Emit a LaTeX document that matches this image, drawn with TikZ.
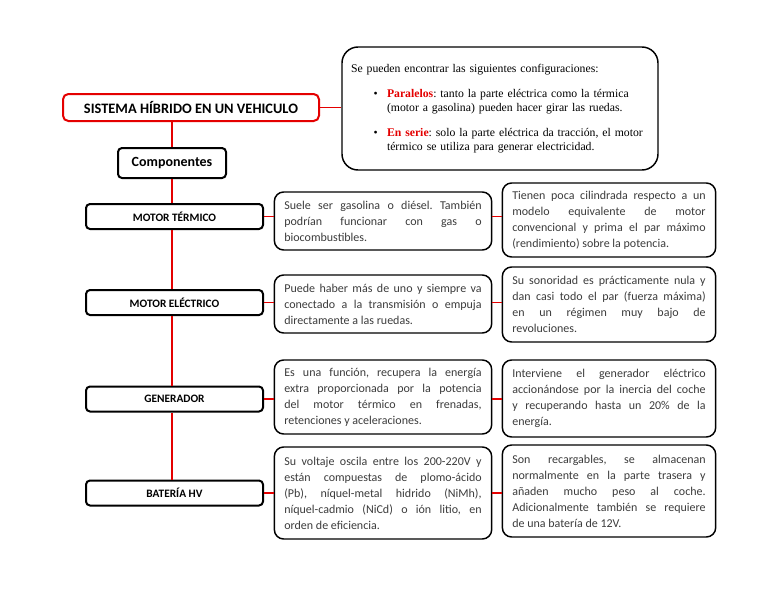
\documentclass[tikz,border=0pt]{standalone}
\usepackage{fontspec}
\setmainfont{Carlito}
\newfontfamily\cfgfont{Liberation Serif}
\usetikzlibrary{positioning}
\definecolor{linkred}{RGB}{228,0,0}
\definecolor{bodygray}{RGB}{60,60,60}
\tolerance=10000
\hbadness=10000
\hyphenpenalty=10000
\exhyphenpenalty=10000
\frenchspacing

\begin{document}
\begin{tikzpicture}[x=0.75pt, y=-0.75pt,
  link/.style={draw=linkred, line width=1.3pt},
  head/.style={draw=black, line width=1.5pt, rounded corners=3pt, fill=white,
    font=\bfseries\fontsize{8.5}{10}\selectfont, minimum width=132.75pt,
    minimum height=18.75pt, inner sep=0pt},
  info/.style={draw=black, line width=1.1pt, rounded corners=7pt, fill=white,
    align=justify, text=bodygray, font=\fontsize{9}{12}\selectfont,
    inner xsep=7.5pt, inner ysep=0pt},
  mid/.style={info, text width=148pt},
  side/.style={info, text width=145pt}]

  \path[use as bounding box, fill=white] (0,0) rectangle (768,594);

  % Title and configurations
  \node[draw=linkred, line width=1.5pt, rounded corners=4pt, fill=white,
    minimum width=192pt, minimum height=20.25pt,
    font=\bfseries\fontsize{10.8}{12}\selectfont] (title) at (191,107.5)
    {SISTEMA HÍBRIDO EN UN VEHICULO};

  \node[draw=black, line width=1.1pt, rounded corners=12pt, fill=white,
    minimum width=237pt, minimum height=92.25pt, text width=223.5pt,
    inner xsep=6.75pt, align=left,
    font=\cfgfont\fontsize{8.8}{10.9}\selectfont] (config) at (500,108.5)
    {Se pueden encontrar las siguientes configuraciones:\\[7.9pt]
     \makebox[27pt][l]{\hspace{17pt}\textbullet}\parbox[t]{200pt}{\raggedright\textcolor{linkred}{\textbf{Paralelos}}: tanto la parte eléctrica como la térmica\\(motor a gasolina) pueden hacer girar las ruedas.}\\[9.4pt]
     \makebox[27pt][l]{\hspace{17pt}\textbullet}\parbox[t]{200pt}{\raggedright\textcolor{linkred}{\textbf{En serie}}: solo la parte eléctrica da tracción, el motor\\térmico se utiliza para generar electricidad.}};

  \node[draw=black, line width=1.5pt, rounded corners=3pt, fill=white,
    minimum width=81pt, minimum height=22.5pt,
    font=\bfseries\fontsize{10.5}{12}\selectfont] (comp) at (172,163) {Componentes};

  % Components
  \node[head] (mt)  at (174.5,216.5) {MOTOR TÉRMICO};
  \node[head] (me)  at (174.5,302.5) {MOTOR ELÉCTRICO};
  \node[head] (gen) at (174.5,399)   {GENERADOR};
  \node[head] (bat) at (174.5,493)   {BATERÍA HV};

  % Descriptions
  \node[mid, minimum height=43.5pt] (mta) at (383,221)
    {Suele ser gasolina o diésel. También\linebreak podrían funcionar con gas o\linebreak biocombustibles.};
  \node[side, minimum height=55.5pt] (mtb) at (609,220)
    {Tienen poca cilindrada respecto a un\linebreak modelo equivalente de motor\linebreak convencional y prima el par máximo\linebreak (rendimiento) sobre la potencia.};

  \node[mid, minimum height=43.5pt] (mea) at (383,304)
    {Puede haber más de uno y siempre va\linebreak conectado a la transmisión o empuja\linebreak directamente a las ruedas.};
  \node[side, minimum height=56.25pt] (meb) at (609,304.5)
    {Su sonoridad es prácticamente nula y\linebreak dan casi todo el par (fuerza máxima)\linebreak en un régimen muy bajo de\linebreak revoluciones.};

  \node[mid, minimum height=55.5pt] (gena) at (383,397)
    {Es una función, recupera la energía\linebreak extra proporcionada por la potencia\linebreak del motor térmico en frenadas,\linebreak retenciones y aceleraciones.};
  \node[side, minimum height=57.75pt] (genb) at (609,398.5)
    {Interviene el generador eléctrico\linebreak accionándose por la inercia del coche\linebreak y recuperando hasta un 20\% de la\linebreak energía.};

  \node[mid, minimum height=69pt] (bata) at (383,493)
    {Su voltaje oscila entre los 200-220V y\linebreak están compuestas de plomo-ácido\linebreak (Pb), níquel-metal hidrido (NiMh),\linebreak níquel-cadmio (NiCd) o ión litio, en\linebreak orden de eficiencia.};
  \node[side, minimum height=69pt] (batb) at (609,491)
    {Son recargables, se almacenan\linebreak normalmente en la parte trasera y\linebreak añaden mucho peso al coche.\linebreak Adicionalmente también se requiere\linebreak de una batería de 12V.};

  % Connectors
  \draw[link] (title.east) -- (title.east -| config.west);
  \draw[link] (comp.north) -- (comp.north |- title.south);
  \foreach \a/\b in {comp/mt, mt/me, me/gen, gen/bat}
    \draw[link] (comp.south |- \a.south) -- (comp.south |- \b.north);
  \foreach \a/\b/\c in {mt/mta/mtb, me/mea/meb, gen/gena/genb, bat/bata/batb} {
    \draw[link] (\a.east) -- (\a.east -| \b.west);
    \draw[link] (\a.east -| \b.east) -- (\a.east -| \c.west);
  }

\end{tikzpicture}
\end{document}
